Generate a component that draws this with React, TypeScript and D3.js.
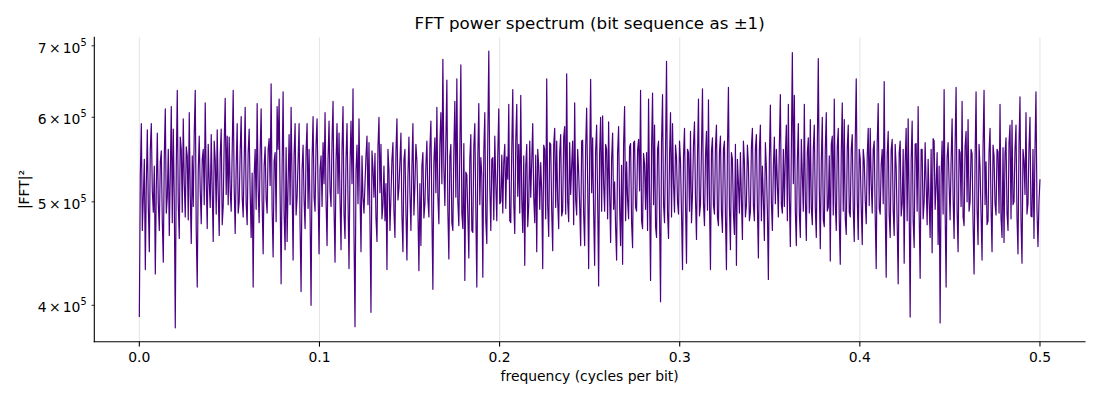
import React, { useEffect } from "react";
import * as d3 from "d3";

// ---- chart text ----
const chartTitle = "FFT power spectrum (bit sequence as \u00b11)";
const xLabel = "frequency (cycles per bit)";
const yLabel = "|FFT|\u00b2";
const xTicks = [0, 0.1, 0.2, 0.3, 0.4, 0.5];
const yTickMantissas = [4, 5, 6, 7];
const yTickExponent = 5;
const fMax = 0.5;

// ---- |FFT|^2 values, in thousands ----
// bandK: the resolvable peaks and troughs; midK: the bin estimated between each of them
const band0 = [390, 592, 505, 432, 584, 449, 592, 489, 428, 580, 470, 558, 439, 611, 505, 465, 614, 585, 381, 636, 462, 560, 598, 484, 552, 606, 457, 495, 636, 416, 576, 477, 560, 619, 472, 522, 578, 459, 548, 584, 465, 585, 495, 625, 576];
const mid0 = [530, 470, 548, 520, 495, 560, 512, 540, 515, 498, 545, 480, 552, 488, 560, 530, 478, 502, 540, 498, 575, 489, 520, 563, 481, 506, 552, 580, 470, 535, 512, 548, 497, 523, 566, 494, 512, 570, 487, 510, 553, 476, 568, 508, 497];
const band1 = [575, 490, 636, 467, 592, 500, 601, 484, 613, 476, 585, 463, 416, 560, 618, 478, 611, 447, 563, 488, 573, 645, 444, 556, 614, 624, 419, 634, 451, 459, 578, 613, 441, 592, 505, 592, 412, 565, 472, 592, 560, 400, 601, 490, 598];
const mid1 = [512, 558, 515, 540, 488, 557, 505, 545, 498, 556, 510, 532, 528, 492, 514, 556, 500, 541, 503, 560, 518, 492, 546, 479, 560, 508, 540, 487, 562, 521, 497, 520, 553, 486, 547, 474, 536, 502, 558, 493, 487, 548, 505, 566, 514];
const band2 = [447, 552, 568, 606, 455, 595, 495, 621, 439, 592, 580, 451, 614, 462, 592, 433, 595, 638, 382, 565, 598, 449, 505, 520, 576, 568, 394, 538, 555, 459, 600, 566, 497, 480, 432, 535, 505, 568, 463, 598, 515, 580, 449, 560, 441];
const mid2 = [536, 495, 520, 502, 548, 512, 570, 494, 545, 509, 503, 560, 487, 548, 502, 541, 520, 466, 535, 498, 511, 552, 488, 552, 497, 478, 558, 505, 483, 562, 510, 482, 540, 520, 560, 470, 548, 490, 557, 502, 545, 486, 547, 490, 528];
const band3 = [575, 470, 592, 518, 546, 431, 455, 556, 498, 570, 484, 595, 414, 574, 613, 477, 606, 680, 496, 650, 442, 566, 470, 621, 652, 475, 672, 472, 422, 530, 443, 578, 468, 592, 416, 618, 550, 425, 606, 457, 692, 470, 550, 576, 480];
const mid3 = [510, 540, 486, 566, 492, 520, 540, 483, 541, 503, 562, 488, 545, 510, 506, 566, 520, 538, 571, 490, 552, 478, 560, 505, 500, 560, 488, 567, 533, 487, 549, 470, 564, 492, 552, 497, 530, 558, 480, 575, 516, 548, 481, 520, 555];
const band4 = [611, 500, 488, 566, 551, 617, 478, 637, 467, 617, 566, 629, 468, 436, 566, 497, 505, 592, 478, 449, 540, 544, 433, 560, 652, 464, 566, 450, 586, 570, 472, 578, 490, 588, 659, 479, 508, 570, 619, 486, 532, 455, 571, 455, 612];
const mid4 = [498, 553, 545, 493, 525, 480, 560, 498, 572, 506, 488, 503, 552, 540, 474, 570, 546, 505, 553, 560, 492, 510, 565, 482, 496, 568, 490, 565, 494, 500, 556, 485, 575, 487, 500, 568, 541, 476, 502, 560, 497, 570, 486, 562, 520];
const band5 = [433, 651, 574, 436, 590, 417, 600, 602, 490, 560, 594, 458, 580, 522, 441, 588, 455, 437, 614, 545, 482, 567, 453, 570, 490, 572, 636, 472, 542, 556, 624, 422, 632, 590, 463, 570, 403, 630, 478, 677, 462, 606, 592, 489, 550];
const mid5 = [545, 510, 489, 558, 503, 555, 490, 520, 566, 482, 510, 548, 492, 473, 556, 495, 541, 566, 480, 502, 563, 478, 568, 494, 559, 512, 480, 555, 492, 470, 508, 560, 497, 474, 560, 486, 568, 497, 560, 488, 552, 484, 520, 565, 500];
const band6 = [487, 546, 432, 586, 438, 556, 582, 508, 594, 461, 624, 497, 638, 475, 582, 623, 432, 574, 487, 590, 475, 576, 468, 570, 432, 640, 451, 548, 466, 436, 520, 556, 461, 545, 496, 542, 489, 586, 480, 578, 443, 590, 540, 460, 538];
const mid6 = [570, 488, 552, 497, 560, 490, 478, 566, 503, 552, 485, 560, 498, 552, 491, 500, 558, 496, 563, 484, 557, 490, 560, 486, 560, 494, 556, 487, 566, 548, 488, 503, 570, 484, 565, 480, 563, 496, 561, 495, 560, 480, 502, 568, 490];
const band7 = [423, 616, 470, 575, 560, 484, 630, 488, 495, 590, 617, 454, 690, 629, 455, 592, 463, 530, 617, 460, 574, 597, 476, 590, 463, 681, 452, 600, 474, 606, 494, 440, 576, 624, 470, 586, 437, 619, 597, 466, 590, 484, 578, 459, 652];
const mid7 = [548, 500, 540, 498, 520, 566, 497, 560, 553, 480, 506, 560, 520, 490, 546, 488, 572, 490, 502, 556, 488, 494, 560, 493, 563, 515, 545, 481, 560, 490, 552, 566, 486, 498, 563, 480, 556, 490, 482, 562, 489, 560, 492, 570, 503];
const band8 = [461, 548, 456, 546, 477, 586, 586, 488, 570, 433, 618, 487, 560, 648, 425, 582, 463, 572, 465, 538, 419, 570, 498, 438, 586, 598, 390, 595, 453, 567, 614, 424, 560, 500, 520, 548, 463, 448, 570, 518, 456, 385, 570, 637, 416];
const mid8 = [560, 495, 560, 502, 552, 496, 520, 560, 484, 566, 493, 542, 498, 492, 554, 486, 560, 491, 566, 478, 556, 485, 560, 545, 480, 497, 548, 480, 566, 490, 489, 560, 482, 568, 476, 500, 560, 573, 492, 556, 540, 530, 487, 492, 550];
const band9 = [568, 481, 598, 462, 640, 449, 556, 621, 475, 582, 597, 500, 555, 428, 634, 456, 538, 441, 636, 545, 480, 586, 449, 552, 486, 557, 617, 463, 458, 574, 470, 590, 596, 500, 590, 447, 627, 438, 546, 606, 498, 600, 484, 462, 634, 454, 525];
const mid9 = [520, 546, 504, 565, 490, 560, 495, 484, 563, 500, 490, 560, 478, 548, 492, 566, 487, 562, 497, 476, 556, 493, 565, 498, 560, 488, 483, 562, 555, 488, 568, 482, 497, 560, 484, 566, 480, 560, 508, 487, 562, 485, 560, 560, 492, 500];

const bands = [band0, band1, band2, band3, band4, band5, band6, band7, band8, band9];
const mids = [mid0, mid1, mid2, mid3, mid4, mid5, mid6, mid7, mid8, mid9];

const W = 1100;
const H = 400;
const FONT = "'DejaVu Sans', Verdana, sans-serif";

export default function App() {
  useEffect(() => {
    document.body.style.margin = "0";
  }, []);

  const valuesK: number[] = [];
  bands.forEach((b, k) => {
    b.forEach((v, j) => {
      valuesK.push(v);
      const m = mids[k][j];
      if (m !== undefined && !(k === bands.length - 1 && j === b.length - 1)) valuesK.push(m);
    });
  });
  const values = valuesK.map((v) => v * 1000);
  const n = values.length;
  const pts = values.map((v, i) => ({ f: (i * fMax) / (n - 1), p: v }));

  const left = 94.3;
  const right = 1085;
  const top = 37.3;
  const bottom = 341.7;

  const xMin = 0;
  const xMax = fMax;
  const xPad = (xMax - xMin) * 0.05;
  const x = d3.scaleLinear().domain([xMin - xPad, xMax + xPad]).range([left, right]);

  const [vMin, vMax] = d3.extent(values) as [number, number];
  const span = Math.log10(vMax / vMin);
  const y = d3
    .scaleLog()
    .domain([vMin / Math.pow(10, 0.05 * span), vMax * Math.pow(10, 0.05 * span)])
    .range([bottom, top]);

  const line = d3
    .line<{ f: number; p: number }>()
    .x((d) => x(d.f))
    .y((d) => y(d.p));

  const fs = 13.9;

  return (
    <svg width={W} height={H} viewBox={`0 0 ${W} ${H}`} style={{ display: "block", background: "#fff" }} fontFamily={FONT}>
      <defs>
        <clipPath id="plotclip">
          <rect x={left} y={top} width={right - left} height={bottom - top} />
        </clipPath>
      </defs>
      <rect x={0} y={0} width={W} height={H} fill="#fff" />
      {/* vertical grid */}
      {xTicks.map((t) => (
        <line key={"g" + t} x1={x(t)} x2={x(t)} y1={top} y2={bottom} stroke="#b0b0b0" strokeOpacity={0.3} strokeWidth={1.1} />
      ))}
      {/* spectrum */}
      <path d={line(pts) || ""} fill="none" stroke="#4b0082" strokeWidth={1.2} strokeLinejoin="round" clipPath="url(#plotclip)" />
      {/* spines */}
      <line x1={left} x2={left} y1={top} y2={bottom} stroke="#000" strokeWidth={1.1} strokeLinecap="square" />
      <line x1={left} x2={right} y1={bottom} y2={bottom} stroke="#000" strokeWidth={1.1} strokeLinecap="square" />
      {/* x ticks */}
      {xTicks.map((t) => (
        <g key={"x" + t}>
          <line x1={x(t)} x2={x(t)} y1={bottom} y2={bottom + 4.9} stroke="#000" strokeWidth={1.1} />
          <text x={x(t)} y={bottom + 19.8} fontSize={fs} textAnchor="middle" fill="#000">
            {t.toFixed(1)}
          </text>
        </g>
      ))}
      {/* y ticks (log scale) */}
      {yTickMantissas.map((m) => {
        const v = m * Math.pow(10, yTickExponent);
        const yy = y(v);
        return (
          <g key={"y" + m}>
            <line x1={left - 2.8} x2={left} y1={yy} y2={yy} stroke="#000" strokeWidth={0.8} />
            <text x={left - 7.7} y={yy + 6.8} fontSize={fs} textAnchor="end" fill="#000">
              {String(m)}
              <tspan dx={2.2}>{"\u00d7"}</tspan>
              <tspan dx={2.2}>10</tspan>
              <tspan dy={-7} fontSize={9.7}>
                {String(yTickExponent)}
              </tspan>
            </text>
          </g>
        );
      })}
      {/* labels */}
      <text x={(left + right) / 2} y={381} fontSize={fs} textAnchor="middle" fill="#000">
        {xLabel}
      </text>
      <text transform={`translate(29.3, ${(top + bottom) / 2}) rotate(-90)`} fontSize={fs} textAnchor="middle" fill="#000">
        {yLabel}
      </text>
      <text x={(left + right) / 2} y={29} fontSize={16.7} textAnchor="middle" fill="#000">
        {chartTitle}
      </text>
    </svg>
  );
}
